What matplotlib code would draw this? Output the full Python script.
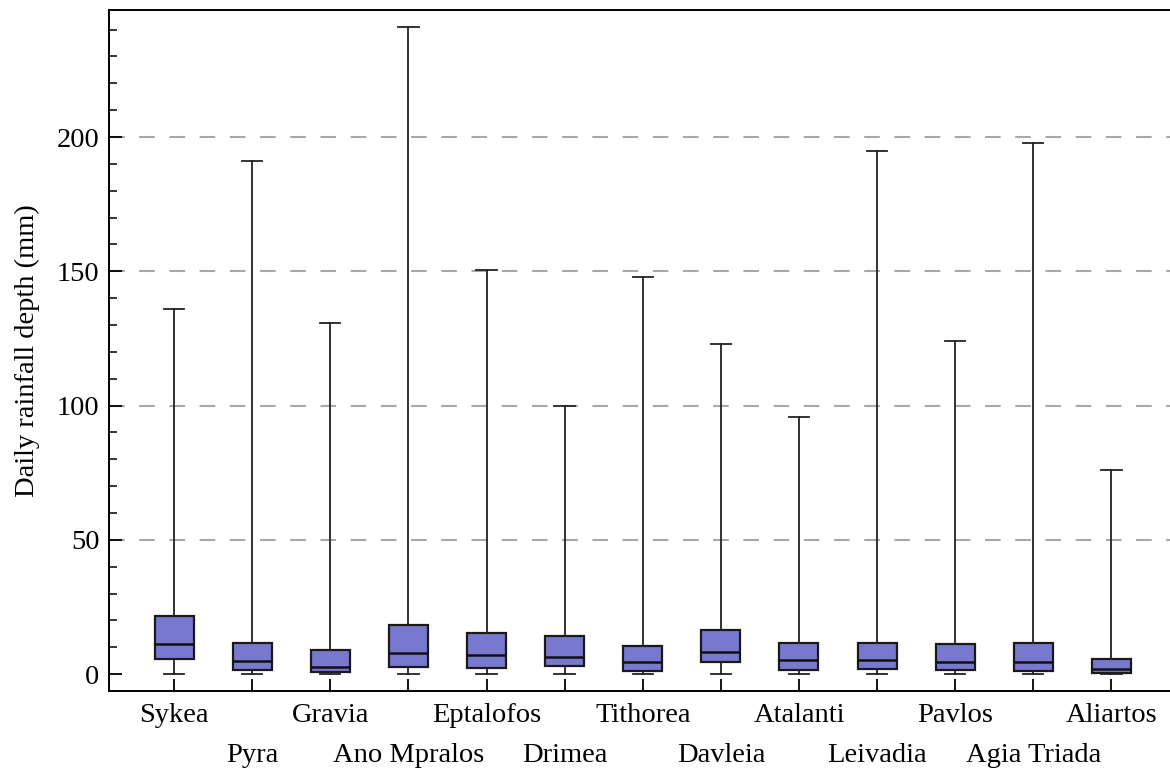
import matplotlib
matplotlib.use("Agg")
import matplotlib.pyplot as plt
import matplotlib.ticker as mticker

plt.rcParams['font.family'] = ['Liberation Serif', 'DejaVu Serif']

stations = ["Sykea", "Pyra", "Gravia", "Ano Mpralos", "Eptalofos", "Drimea", "Tithorea",
            "Davleia", "Atalanti", "Leivadia", "Pavlos", "Agia Triada", "Aliartos"]
whis_low = [0.0, 0.0, 0.0, 0.0, 0.0, 0.0, 0.0, 0.0, 0.0, 0.0, 0.0, 0.0, 0.0]
q1 = [5.7, 1.4, 0.6, 2.7, 2.2, 2.9, 1.1, 4.4, 1.6, 2.0, 1.4, 1.0, 0.4]
med = [11.3, 4.9, 2.7, 7.9, 7.1, 6.3, 4.4, 8.2, 5.2, 5.2, 4.5, 4.4, 1.8]
q3 = [21.8, 11.4, 8.8, 18.2, 15.2, 14.2, 10.4, 16.3, 11.4, 11.4, 11.2, 11.7, 5.7]
whis_high = [135.8, 191.0, 130.6, 241.0, 150.4, 100.0, 148.0, 123.0, 95.9, 194.8, 123.9, 197.8, 76.1]

stats = []
for i in range(len(stations)):
    stats.append({"label": stations[i], "whislo": whis_low[i], "q1": q1[i], "med": med[i],
                  "q3": q3[i], "whishi": whis_high[i], "fliers": []})

fig = plt.figure(figsize=(11.7, 7.72), dpi=100)
ax = fig.add_axes([0.0932, 0.1049, 0.9068 + 0.01, 0.987 - 0.1049])

pos = list(range(len(stations)))
ax.bxp(stats, positions=pos, widths=0.5, capwidths=0.26, patch_artist=True, showfliers=False,
       boxprops=dict(facecolor='#7878cf', edgecolor='#1a1a1a', linewidth=1.6),
       medianprops=dict(color='#111111', linewidth=1.8),
       whiskerprops=dict(color='#222222', linewidth=1.3),
       capprops=dict(color='#222222', linewidth=1.3))

for v in [50, 100, 150, 200]:
    ax.axhline(v, color='#a8a8a8', linestyle=(0, (7.5, 7)), linewidth=1.5, zorder=0)

ax.set_xlim(-0.833, 12.9)
ax.set_ylim(-6.3, 247.3)

# station names on two staggered rows below the axis
ax.set_xticks(pos)
ax.set_xticklabels([])
for i, s in enumerate(stations):
    row_y = -0.0355 if i % 2 == 0 else -0.094
    ax.text(pos[i], row_y, s, transform=ax.get_xaxis_transform(), ha='center', va='center',
            fontsize=20.5)

ax.yaxis.set_major_locator(mticker.MultipleLocator(50))
ax.yaxis.set_minor_locator(mticker.MultipleLocator(10))
ax.tick_params(axis='y', which='major', direction='in', length=9, width=1.3, labelsize=20.5, pad=7)
ax.tick_params(axis='y', which='minor', direction='in', length=6, width=1.1)
ax.tick_params(axis='x', which='major', direction='in', length=9, width=1.3)
ax.set_ylabel("Daily rainfall depth (mm)", fontsize=20.5, labelpad=12)

for side in ['left', 'bottom', 'top']:
    ax.spines[side].set_linewidth(1.4)
ax.spines['right'].set_visible(False)

fig.savefig("out.png", dpi=100)
